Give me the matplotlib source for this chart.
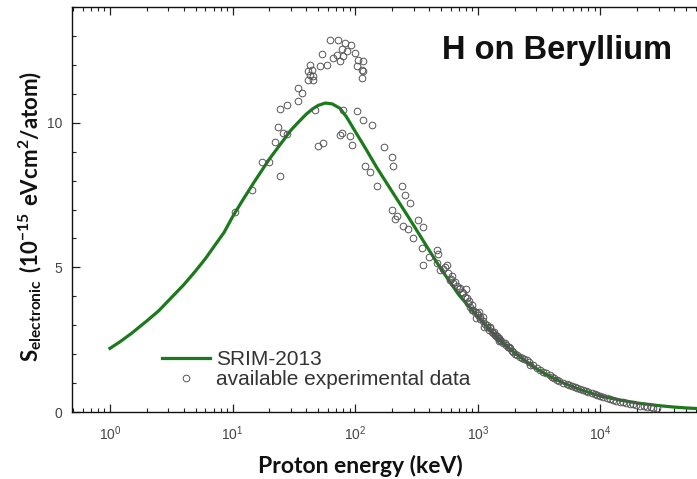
import numpy as np
import matplotlib
matplotlib.use("Agg")
import matplotlib.pyplot as plt
from matplotlib.ticker import LogLocator, MultipleLocator, NullFormatter

plt.rcParams['font.family'] = ['Liberation Sans', 'DejaVu Sans']
plt.rcParams['mathtext.fontset'] = 'custom'
plt.rcParams['mathtext.rm'] = 'Liberation Sans'
plt.rcParams['mathtext.bf'] = 'Lato:bold'

# ---- SRIM-2013 curve (keV, 1e-15 eV cm^2/atom)
srim_E = [1, 1.2, 1.5, 2, 2.5, 3, 4, 5, 6, 7, 8.5, 10, 12, 15, 20, 25, 30, 35, 40,
          45, 50, 57, 65, 75, 85, 100, 120, 150, 200, 250, 300, 400, 500, 700,
          1000, 1500, 2000, 3000, 4000, 5000, 7000, 10000, 15000, 20000, 30000,
          40000, 50000, 62000]
srim_S = [2.2, 2.42, 2.72, 3.15, 3.5, 3.85, 4.4, 4.88, 5.3, 5.7, 6.2, 6.75, 7.3,
          7.95, 8.75, 9.3, 9.75, 10.05, 10.3, 10.48, 10.6, 10.68, 10.65, 10.5,
          10.2, 9.7, 9.15, 8.45, 7.62, 6.98, 6.45, 5.6, 4.95, 4.05, 3.3, 2.5,
          2.04, 1.5, 1.2, 1.0, 0.76, 0.55, 0.4, 0.31, 0.22, 0.17, 0.14, 0.12]

# ---- experimental data (keV, 1e-15 eV cm^2/atom)
exp_E = [62.2, 72.8, 82.6, 91.8, 77.6, 85.1, 53.3, 70.6, 80.0, 100, 66.4, 75.2,
         105.9, 114.8, 42.8, 51.6, 58.5, 44.2, 41.5, 102.8, 113, 42.8, 45.0, 116.4,
         113, 41.5, 45.6, 34.4, 36.6, 34.4, 47.0, 80.0, 102.8, 24.4, 27.6, 116.4,
         136.1, 23.6, 25.9, 27.6, 75.2, 90.8, 93.5, 55.0, 50.0, 22.2, 171.8, 198.2,
         204.6, 120.2, 131.8, 17.3, 20.0, 24.4, 149.6, 239.3, 254.7, 279.9, 14.3,
         10.5, 198.2, 217.8, 77.6,
         211.3, 247.2, 271.0, 294.4, 327.3, 359.7, 348.3, 359.7, 402.7, 462.4, 476.4,
         462.4, 492.0, 557.2, 575.4, 631, 673, 738, 787, 838, 891, 977, 1109,
         593, 811, 863, 920, 1042, 1180, 1259, 1337, 1426, 1517, 1667, 1832, 1950,
         2208, 2506, 2667, 3020, 3428, 3882, 4395, 4989, 5834, 6823, 7943, 9333,
         11220, 13490, 16220, 19500, 23990, 28840,
         800, 850, 900, 950, 1000, 1050, 1100, 1150, 1200, 1250, 1300, 1350, 1400,
         1450, 1500, 1550, 1600, 1700, 1750, 1800, 1900, 2000, 2100, 2300, 2400,
         2600, 2800, 3200, 3600, 4000, 4200, 4600, 5300, 5500, 6200, 6500, 7200,
         7600, 8500, 9000, 10000, 10500, 12000, 12700, 14500, 15300, 17500, 18500,
         21000, 22500, 26000, 27000,
         960, 1020, 1130, 1230, 1380, 1480,
         520, 540, 600, 620, 650, 700, 720, 760]
exp_S = [12.87, 12.85, 12.76, 12.70, 12.55, 12.47, 12.38, 12.35, 12.29, 12.41, 12.24,
         12.12, 12.18, 12.12, 12.01, 11.95, 12.01, 11.83, 11.78, 11.95, 11.83, 11.66,
         11.60, 11.78, 11.55, 11.49, 11.46, 11.20, 11.03, 10.74, 10.45, 10.45, 10.39,
         10.47, 10.62, 10.10, 9.93, 9.85, 9.64, 9.62, 9.58, 9.53, 9.24, 9.30, 9.20,
         9.32, 9.16, 8.83, 8.49, 8.51, 8.28, 8.63, 8.63, 8.17, 7.80, 7.82, 7.51, 7.22,
         7.68, 6.93, 6.99, 6.76, 9.64,
         6.67, 6.44, 6.32, 6.01, 6.62, 6.39, 5.66, 5.09, 5.37, 5.61, 5.47, 5.14, 4.91,
         5.09, 4.80, 4.45, 4.34, 4.16, 3.99, 3.76, 3.53, 3.41, 3.30,
         4.57, 3.93, 3.64, 3.53, 3.30, 3.01, 2.89, 2.72, 2.61, 2.49, 2.38, 2.20, 2.09,
         1.91, 1.80, 1.63, 1.51, 1.39, 1.28, 1.11, 0.99, 0.90, 0.78, 0.70, 0.59,
         0.47, 0.39, 0.30, 0.24, 0.18, 0.13,
         4.25, 3.85, 3.70, 3.45, 3.35, 3.20, 3.15, 3.05, 2.95, 2.95, 2.78, 2.75, 2.62,
         2.55, 2.55, 2.45, 2.40, 2.30, 2.25, 2.25, 2.12, 2.02, 1.98, 1.86, 1.82,
         1.72, 1.62, 1.45, 1.34, 1.22, 1.18, 1.08, 0.96, 0.94, 0.85, 0.82, 0.76,
         0.72, 0.66, 0.62, 0.56, 0.53, 0.45, 0.42, 0.36, 0.34, 0.28, 0.26,
         0.22, 0.20, 0.16, 0.15,
         3.25, 3.45, 2.95, 2.85, 2.65, 2.45,
         4.95, 5.00, 4.60, 4.70, 4.50, 4.25, 4.30, 4.10]

title_text = "H on Beryllium"
x_label = "Proton energy (keV)"
y_label = r"$\mathbf{S_{electronic}\ (10^{-15}\ eVcm^{2}/atom)}$"

W, H = 697, 479
fig = plt.figure(figsize=(W / 100, H / 100), dpi=100)
ax = fig.add_axes([72 / W, (H - 412) / H, 1 - 72 / W, (412 - 7) / H])

green = '#1b7a1b'
ax.plot(srim_E, srim_S, color=green, lw=2.3, label='SRIM-2013', zorder=2,
        solid_joinstyle='round')
ax.plot(exp_E, exp_S, ls='none', marker='o', ms=4.8, mfc='none', mec='#555555',
        mew=0.7, label='available experimental data', zorder=3)

ax.set_xscale('log')
ax.set_xlim(0.49, 61400)
ax.set_ylim(0, 14)

ax.xaxis.set_major_locator(LogLocator(base=10, numticks=10))
ax.xaxis.set_minor_locator(LogLocator(base=10, subs=np.arange(2, 10), numticks=20))
ax.xaxis.set_minor_formatter(NullFormatter())
ax.yaxis.set_major_locator(MultipleLocator(5))
ax.yaxis.set_minor_locator(MultipleLocator(1))

ax.tick_params(which='both', direction='in', top=True, bottom=True, left=True,
               right=False, colors='#222222', labelcolor='#444444', labelsize=10)
ax.tick_params(which='major', length=6, width=0.9)
ax.tick_params(which='minor', length=3, width=0.8)
ax.tick_params(axis='y', pad=7)
ax.tick_params(axis='x', pad=9)
for s in ['left', 'bottom', 'top']:
    ax.spines[s].set_linewidth(1.0)
    ax.spines[s].set_color('#111111')
ax.spines['right'].set_visible(False)

fig.text(442 / W, 1 - 50 / H, title_text, fontsize=23.5, fontweight='bold',
         ha='left', va='center', color='#111111')
fig.text(360 / W, 1 - 466 / H, x_label, fontsize=16.5, fontweight='bold',
         family='Lato', ha='center', va='center', color='#111111')
fig.text(30 / W, 1 - 216 / H, y_label, fontsize=16, rotation=90,
         ha='center', va='center', color='#111111')

leg = ax.legend(loc='upper left', bbox_to_anchor=(162 / W, 1 - 350 / H),
                bbox_transform=fig.transFigure, frameon=False, fontsize=15,
                handlelength=2.3, handletextpad=0.3, labelspacing=0.05,
                borderpad=0, borderaxespad=0)
for t in leg.get_texts():
    t.set_color('#333333')

fig.savefig('out.png', dpi=100)
